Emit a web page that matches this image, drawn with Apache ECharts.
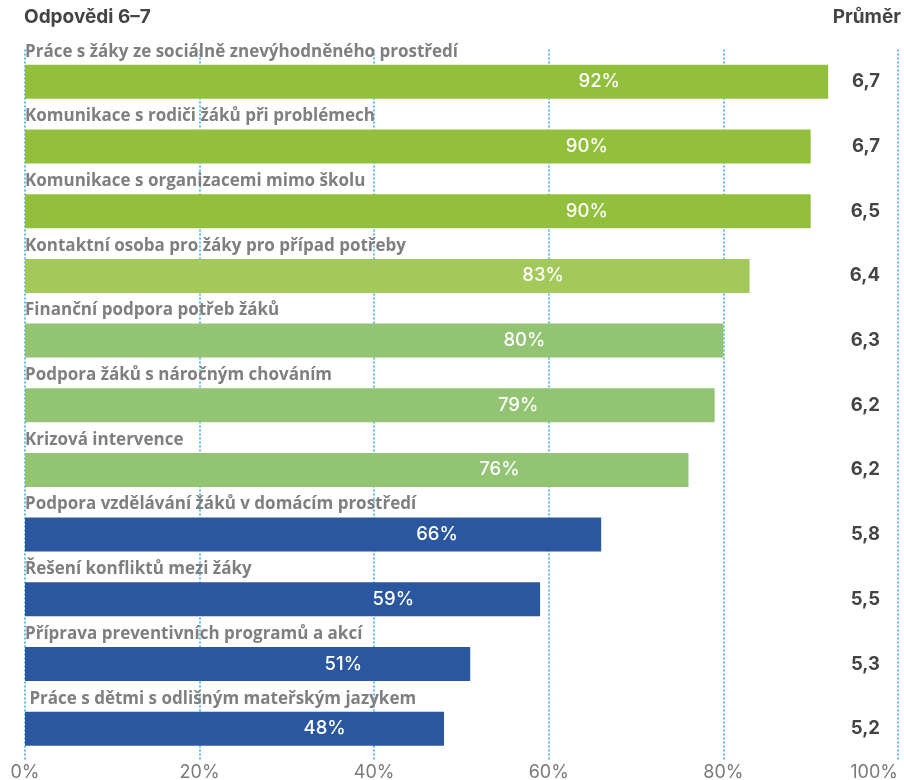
<!DOCTYPE html>
<html>
<head>
<meta charset="utf-8">
<style>
  html, body { margin: 0; padding: 0; background: #ffffff; }
  #chart { width: 904px; height: 780px; }
</style>
<script src="https://cdn.jsdelivr.net/npm/echarts@6/dist/echarts.min.js"></script>
</head>
<body>
<div id="chart"></div>
<script>
// Oblasti podpory, podíl odpovědí 6–7 a průměrné hodnocení
const categories = [
  'Práce s žáky ze sociálně znevýhodněného prostředí',
  'Komunikace s rodiči žáků při problémech',
  'Komunikace s organizacemi mimo školu',
  'Kontaktní osoba pro žáky pro případ potřeby',
  'Finanční podpora potřeb žáků',
  'Podpora žáků s náročným chováním',
  'Krizová intervence',
  'Podpora vzdělávání žáků v domácím prostředí',
  'Řešení konfliktů mezi žáky',
  'Příprava preventivních programů a akcí',
  ' Práce s dětmi s odlišným mateřským jazykem'
];
const shares = [92, 90, 90, 83, 80, 79, 76, 66, 59, 51, 48];
const averages = ['6,7', '6,7', '6,5', '6,4', '6,3', '6,2', '6,2', '5,8', '5,5', '5,3', '5,2'];
const groups = [0, 0, 0, 1, 2, 2, 2, 3, 3, 3, 3];
const xTicks = [0, 20, 40, 60, 80, 100];

const groupColors = ['#93c03c', '#a3c95a', '#92c474', '#2b57a0'];
const gridColor = '#29abe2';

const chart = echarts.init(document.getElementById('chart'));

const option = {
  animation: false,
  backgroundColor: '#ffffff',
  textStyle: { fontFamily: 'Inter, "Noto Sans", sans-serif' },
  graphic: [
    {
      type: 'text', left: 24, top: 8,
      style: { text: 'Odpovědi 6–7', font: 'bold 19px Inter, sans-serif', fill: '#444444' }
    },
    {
      type: 'text', right: 3, top: 8,
      style: { text: 'Průměr', font: 'bold 19px Inter, sans-serif', fill: '#444444', textAlign: 'right' }
    }
  ],
  grid: { left: 25, right: 6, top: 49.5, bottom: 19, containLabel: false, outerBoundsMode: 'none' },
  xAxis: {
    type: 'value',
    min: xTicks[0],
    max: xTicks[xTicks.length - 1],
    interval: xTicks[1] - xTicks[0],
    axisLine: { show: false },
    axisTick: { show: false },
    splitLine: { show: true, lineStyle: { color: gridColor, type: [2, 2], width: 1.5 } },
    axisLabel: {
      margin: 3,
      color: '#7a7a7a',
      fontSize: 18,
      fontFamily: 'Inter, sans-serif',
      hideOverlap: false,
      alignMaxLabel: 'right',
      formatter: v => v + '%'
    }
  },
  yAxis: [
    {
      type: 'category',
      data: categories,
      inverse: true,
      axisLine: { show: false },
      axisTick: { show: false },
      axisLabel: {
        inside: true,
        interval: 0,
        hideOverlap: false,
        align: 'left',
        verticalAlign: 'bottom',
        lineHeight: 20,
        margin: 0,
        padding: [0, 0, 20, 0],
        color: '#7f7f7f',
        fontSize: 17,
        fontWeight: 'bold',
        fontFamily: '"Open Sans", sans-serif'
      }
    },
    {
      type: 'category',
      data: averages,
      inverse: true,
      position: 'right',
      axisLine: { show: false },
      axisTick: { show: false },
      axisLabel: {
        inside: true,
        interval: 0,
        margin: 18,
        color: '#444444',
        fontSize: 18.5,
        fontWeight: 'bold',
        fontFamily: 'Inter, sans-serif'
      }
    }
  ],
  series: [
    {
      type: 'bar',
      yAxisIndex: 0,
      barWidth: 34,
      data: shares.map((v, i) => ({
        value: v,
        itemStyle: { color: groupColors[groups[i]] }
      })),
      label: {
        show: true,
        position: ['71.5%', '50%'],
        align: 'center',
        verticalAlign: 'middle',
        color: '#ffffff',
        fontSize: 18.5,
        fontWeight: 500,
        fontFamily: 'Inter, sans-serif',
        formatter: p => p.value + '%'
      },
      z: 3
    }
  ]
};

chart.setOption(option);
</script>
</body>
</html>
